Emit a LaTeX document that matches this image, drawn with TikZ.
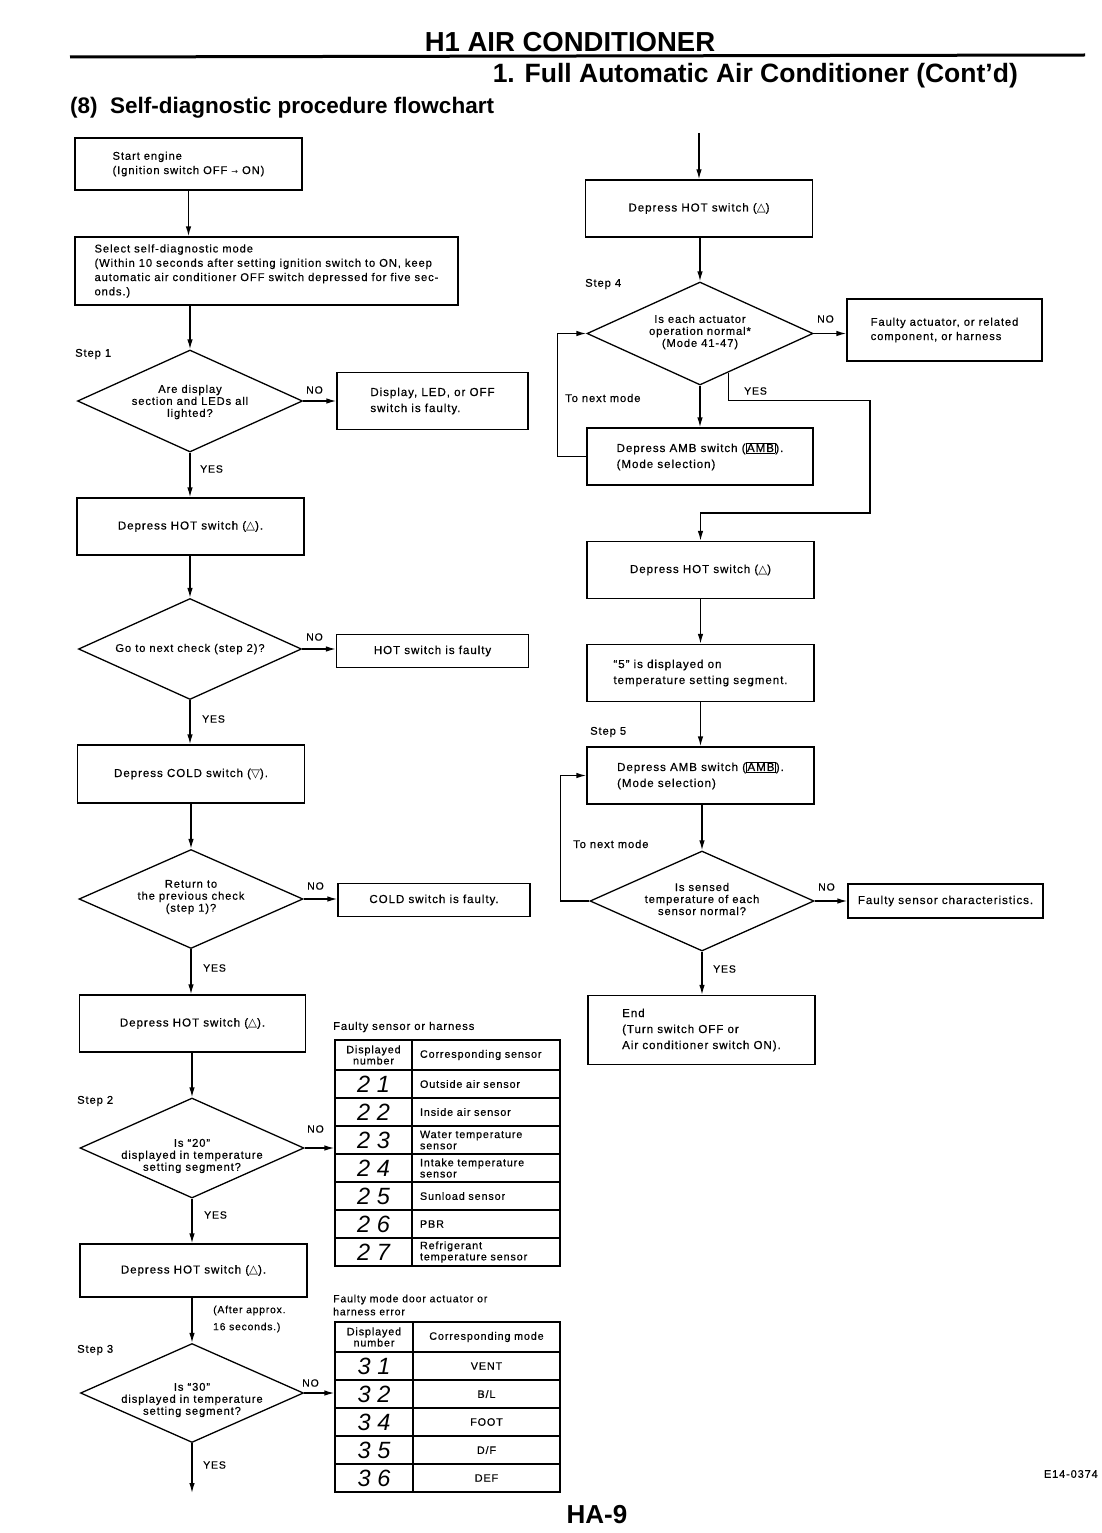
\documentclass[tikz,border=0pt]{standalone}
\usepackage{fontspec}
\setmainfont{Liberation Sans}
\newfontfamily\bodyf[LetterSpace=8,FakeBold=0.5]{Liberation Sans}
\newfontfamily\segf[LetterSpace=28]{Liberation Sans}
\newfontfamily\symf{DejaVu Sans}
\usetikzlibrary{shapes.geometric,arrows.meta,calc}
\setlength{\fboxsep}{0.6pt}
\setlength{\fboxrule}{0.8pt}
\newcommand{\bfnt}{\bodyf\fontsize{11.6}{16}\selectfont}
\newcommand{\dfnt}{\bodyf\fontsize{11.2}{12}\selectfont}
\newcommand{\sfnt}{\bodyf\fontsize{11.2}{14.3}\selectfont}
\newcommand{\cfnt}{\bodyf\fontsize{10.8}{11.2}\selectfont}
\newcommand{\segfnt}{\segf\itshape\fontsize{23.5}{24}\selectfont}
\newcommand{\hotsym}{{\symf △}}
\newcommand{\coldsym}{{\symf ▽}}
\newcommand{\ambkey}{\fbox{AMB}}
\begin{document}
\begin{tikzpicture}[x=1pt,y=-1pt,
  box/.style 2 args={draw, line width=1.3pt, inner sep=2pt, align=left, font=\bfnt, minimum width=#1, minimum height=#2},
  dia/.style 2 args={draw, diamond, line width=1.3pt, inner sep=0pt, minimum width=#1, minimum height=#2},
  dtxt/.style={align=center, font=\dfnt, inner sep=0pt},
  lab/.style={font=\sfnt, inner sep=0pt},
  yn/.style={font=\bodyf\fontsize{10.5}{12}\selectfont, inner sep=0pt},
  arr/.style={line width=1.3pt, -{Latex[length=10pt,width=5.5pt]}},
  lcell/.style 2 args={draw, line width=1.3pt, minimum width=#1, minimum height=#2, inner sep=0pt, align=center},
  rcell/.style 2 args={draw, line width=1.3pt, text width=#1, inner xsep=8pt, inner ysep=0pt, minimum height=#2, align=left, font=\cfnt},
  ccell/.style 2 args={draw, line width=1.3pt, text width=#1, inner xsep=8pt, inner ysep=0pt, minimum height=#2, align=center, font=\cfnt},
  head/.style={font=\bfseries\fontsize{26.5}{30}\selectfont, inner sep=0pt}
]
\useasboundingbox (0,0) rectangle (1102,1533);

% ---------- header ----------
\node[head, font=\bfseries\fontsize{27.5}{30}\selectfont] (title) at (570,42) {H1 AIR CONDITIONER};
\coordinate (hl1) at (70,57);
\coordinate (hl2) at (1085,55);
\draw[line width=3pt] (hl1) -- (hl2);
\node[head, anchor=east] (subtitle) at (1018,76) {1. Full Automatic Air Conditioner (Cont’d)};
\node[font=\bfseries\fontsize{22.5}{26}\selectfont, inner sep=0pt, anchor=west] (sect) at (70,108) {(8)\ \ Self-diagnostic procedure flowchart};

% ---------- left column ----------
\node[box={227pt}{52pt}, font=\sfnt, align=left] (start) at (188.5,164) {Start engine\\(Ignition switch OFF {\symf\fontsize{8}{10}\selectfont →} ON)};
\node[box={383pt}{68pt}, font=\sfnt, align=left] (sel) at (266.5,271) {Select self-diagnostic mode\\(Within 10 seconds after setting ignition switch to ON, keep\\automatic air conditioner OFF switch depressed for five sec-\\onds.)};

\node[lab, anchor=west] (step1) at (75,354) {Step 1};
\node[dia={225pt}{102pt}] (d1) at (190,401) {};
\node[dtxt] (d1t) at (190,402) {Are display\\section and LEDs all\\lighted?};
\node[box={191pt}{57pt}] (f1) at (432.5,401) {Display, LED, or OFF\\switch is faulty.};
\node[yn, anchor=west] (no1) at (306,390) {NO};
\node[yn, anchor=west] (yes1) at (200,469) {YES};

\node[box={227pt}{57pt}] (hot1) at (190.5,526.5) {Depress HOT switch (\hotsym).};

\node[dia={223pt}{101pt}] (d2) at (190,649) {};
\node[dtxt] (d2t) at (190,649) {Go to next check (step 2)?};
\node[box={192pt}{33pt}] (f2) at (432.5,651) {HOT switch is faulty};
\node[yn, anchor=west] (no2) at (306,637) {NO};
\node[yn, anchor=west] (yes2) at (202,719) {YES};

\node[box={227pt}{58pt}] (cold) at (191,774) {Depress COLD switch (\coldsym).};

\node[dia={224pt}{99pt}] (d3) at (191,899) {};
\node[dtxt] (d3t) at (191,897) {Return to\\the previous check\\(step 1)?};
\node[box={192pt}{33pt}] (f3) at (434,900) {COLD switch is faulty.};
\node[yn, anchor=west] (no3) at (307,886) {NO};
\node[yn, anchor=west] (yes3) at (203,968) {YES};

\node[box={226pt}{57pt}] (hot2) at (192.5,1023.5) {Depress HOT switch (\hotsym).};

\node[lab, anchor=west] (step2) at (77,1101) {Step 2};
\node[dia={224pt}{100pt}] (d4) at (192,1148) {};
\node[dtxt] (d4t) at (192,1156) {Is “20”\\displayed in temperature\\setting segment?};
\node[yn, anchor=west] (no4) at (307,1129) {NO};
\node[yn, anchor=west] (yes4) at (204,1215) {YES};

\node[box={227pt}{53pt}] (hot3) at (193.5,1270.5) {Depress HOT switch (\hotsym).};
\node[lab, anchor=west, align=left, font=\bodyf\fontsize{10.3}{17}\selectfont] (after) at (213,1319) {(After approx.\\16 seconds.)};

\node[lab, anchor=west] (step3) at (77,1350) {Step 3};
\node[dia={223pt}{99pt}] (d5) at (192,1393) {};
\node[dtxt] (d5t) at (192,1400) {Is “30”\\displayed in temperature\\setting segment?};
\node[yn, anchor=west] (no5) at (302,1383) {NO};
\node[yn, anchor=west] (yes5) at (203,1465) {YES};
\coordinate (lend) at (192,1493);

% left connectors
\draw[arr] (start.south) -- (start.south |- sel.north);
\draw[arr] (d1.north |- sel.south) -- (d1.north);
\draw[arr] (d1.east) -- (f1.west);
\draw[arr] (d1.south) -- (d1.south |- hot1.north);
\draw[arr] (d2.north |- hot1.south) -- (d2.north);
\draw[arr] (d2.east) -- (d2.east -| f2.west);
\draw[arr] (d2.south) -- (d2.south |- cold.north);
\draw[arr] (d3.north |- cold.south) -- (d3.north);
\draw[arr] (d3.east) -- (d3.east -| f3.west);
\draw[arr] (d3.south) -- (d3.south |- hot2.north);
\draw[arr] (d4.north |- hot2.south) -- (d4.north);
\draw[arr] (d4.south) -- (d4.south |- hot3.north);
\draw[arr] (d5.north |- hot3.south) -- (d5.north);
\draw[arr] (d5.south) -- (lend);

% ---------- table 1 ----------
\node[lab, anchor=west] (cap1) at (333,1027) {Faulty sensor or harness};
\node[lcell={77pt}{30pt}, font=\cfnt] (t1h1) at (373.5,1055) {Displayed\\number};
\node[rcell={132pt}{30pt}] (t1h2) at (486,1055) {Corresponding sensor};
\node[lcell={77pt}{28pt}, font=\segfnt] (t1n1) at (373.5,1084) {21};
\node[rcell={132pt}{28pt}] (t1s1) at (486,1084) {Outside air sensor};
\node[lcell={77pt}{28pt}, font=\segfnt] (t1n2) at (373.5,1112) {22};
\node[rcell={132pt}{28pt}] (t1s2) at (486,1112) {Inside air sensor};
\node[lcell={77pt}{28pt}, font=\segfnt] (t1n3) at (373.5,1140) {23};
\node[rcell={132pt}{28pt}] (t1s3) at (486,1140) {Water temperature\\sensor};
\node[lcell={77pt}{28pt}, font=\segfnt] (t1n4) at (373.5,1168) {24};
\node[rcell={132pt}{28pt}] (t1s4) at (486,1168) {Intake temperature\\sensor};
\node[lcell={77pt}{28pt}, font=\segfnt] (t1n5) at (373.5,1196) {25};
\node[rcell={132pt}{28pt}] (t1s5) at (486,1196) {Sunload sensor};
\node[lcell={77pt}{28pt}, font=\segfnt] (t1n6) at (373.5,1224) {26};
\node[rcell={132pt}{28pt}] (t1s6) at (486,1224) {PBR};
\node[lcell={77pt}{28pt}, font=\segfnt] (t1n7) at (373.5,1252) {27};
\node[rcell={132pt}{28pt}] (t1s7) at (486,1252) {Refrigerant\\temperature sensor};
\draw[arr] (d4.east) -- (d4.east -| t1n3.west);

% ---------- table 2 ----------
\node[lab, anchor=west, align=left, font=\bodyf\fontsize{10.5}{13}\selectfont] (cap2) at (333,1305) {Faulty mode door actuator or\\harness error};
\node[lcell={78pt}{30pt}, font=\cfnt] (t2h1) at (374,1337) {Displayed\\number};
\node[ccell={131pt}{30pt}] (t2h2) at (486.5,1337) {Corresponding mode};
\node[lcell={78pt}{28pt}, font=\segfnt] (t2n1) at (374,1366) {31};
\node[ccell={131pt}{28pt}] (t2m1) at (486.5,1366) {VENT};
\node[lcell={78pt}{28pt}, font=\segfnt] (t2n2) at (374,1394) {32};
\node[ccell={131pt}{28pt}] (t2m2) at (486.5,1394) {B/L};
\node[lcell={78pt}{28pt}, font=\segfnt] (t2n3) at (374,1422) {34};
\node[ccell={131pt}{28pt}] (t2m3) at (486.5,1422) {FOOT};
\node[lcell={78pt}{28pt}, font=\segfnt] (t2n4) at (374,1450) {35};
\node[ccell={131pt}{28pt}] (t2m4) at (486.5,1450) {D/F};
\node[lcell={78pt}{28pt}, font=\segfnt] (t2n5) at (374,1478) {36};
\node[ccell={131pt}{28pt}] (t2m5) at (486.5,1478) {DEF};
\draw[arr] (d5.east) -- (d5.east -| t2n2.west);

% ---------- right column ----------
\coordinate (rtop) at (699,133);
\node[box={227pt}{57pt}] (rhot1) at (699,208.5) {Depress HOT switch (\hotsym)};
\node[lab, anchor=west] (step4) at (585,284) {Step 4};
\node[dia={226pt}{103pt}] (rd1) at (700,333.5) {};
\node[dtxt] (rd1t) at (700,332) {Is each actuator\\operation normal*\\(Mode 41-47)};
\node[box={195pt}{62pt}, font=\sfnt] (rf1) at (944.5,330) {Faulty actuator, or related\\component, or harness};
\node[yn, anchor=west] (rno1) at (817,319) {NO};
\node[yn, anchor=west] (ryes1) at (744,391) {YES};
\node[lab, anchor=west] (tnm1) at (565,398) {To next mode};
\node[box={226pt}{57pt}] (ramb1) at (700,456.5) {Depress AMB switch (\ambkey).\\(Mode selection)};

\node[box={227pt}{57pt}] (rhot2) at (700.5,570) {Depress HOT switch (\hotsym)};
\node[box={227pt}{57pt}] (r5) at (700.5,673) {“5” is displayed on\\temperature setting segment.};
\node[lab, anchor=west] (step5) at (590,732) {Step 5};
\node[box={227pt}{57pt}] (ramb2) at (700.5,775.5) {Depress AMB switch (\ambkey).\\(Mode selection)};
\node[lab, anchor=west] (tnm2) at (573,844) {To next mode};
\node[dia={224pt}{100pt}] (rd2) at (702,901) {};
\node[dtxt] (rd2t) at (702,899) {Is sensed\\temperature of each\\sensor normal?};
\node[box={195pt}{34pt}] (rf2) at (945.5,901) {Faulty sensor characteristics.};
\node[yn, anchor=west] (rno2) at (818,887) {NO};
\node[yn, anchor=west] (ryes2) at (713,969) {YES};
\node[box={227pt}{69pt}] (rend) at (701.5,1030) {End\\(Turn switch OFF or\\Air conditioner switch ON).};

% right connectors
\draw[arr] (rtop) -- (rtop |- rhot1.north);
\draw[arr] (rd1.north |- rhot1.south) -- (rd1.north);
\draw[arr] (rd1.east) -- (rd1.east -| rf1.west);
\draw[arr] (rd1.south) -- (rd1.south |- ramb1.north);
\draw[arr] (ramb1.west) -- ++(-29,0) |- (rd1.west);
\coordinate (ryp) at ($(rd1.south)!0.25!(rd1.east)$);
\coordinate (rbend) at (870,513);
\draw[arr] (ryp) -- ++(0,28) -| (rbend) -| (rhot2.north);
\draw[arr] (rhot2.south) -- (r5.north);
\draw[arr] (r5.south) -- (ramb2.north);
\draw[arr] (rd2.north |- ramb2.south) -- (rd2.north);
\draw[arr] (rd2.west) -- ++(-29,0) |- (ramb2.west);
\draw[arr] (rd2.east) -- (rd2.east -| rf2.west);
\draw[arr] (rd2.south) -- (rd2.south |- rend.north);

% ---------- footer ----------
\node[font=\bfseries\fontsize{26}{30}\selectfont, inner sep=0pt] (page) at (597,1515) {HA-9};
\node[font=\bodyf\fontsize{11}{12}\selectfont, inner sep=0pt, anchor=east] (code) at (1098,1474) {E14-0374};
\end{tikzpicture}
\end{document}
